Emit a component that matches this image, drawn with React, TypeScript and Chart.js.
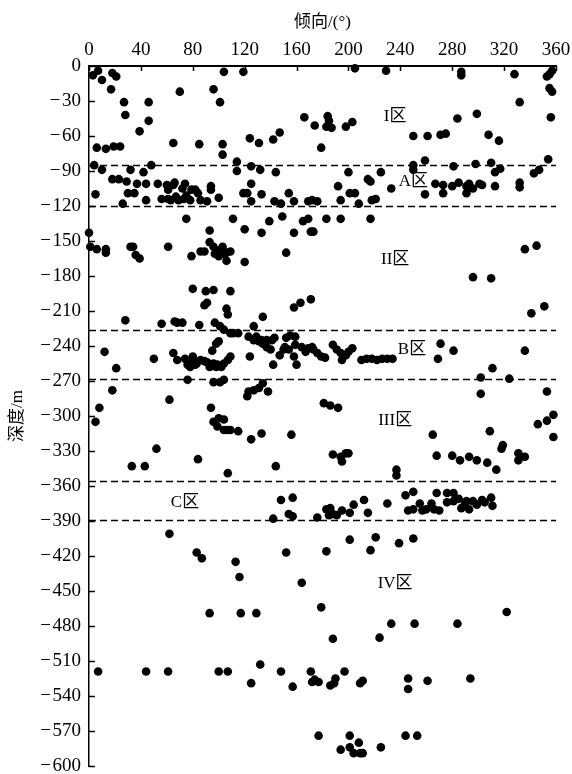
import React, { useEffect, useRef } from "react";
import { Chart, registerables } from "chart.js";

Chart.register(...registerables);

// ---- data: [dip direction (°), depth (m)] ----
const zoneI: [number, number][] = [
  [3, -8], [7, -4], [10, -12], [18, -6], [21, -9], [17, -20], [27, -31], [46, -31], [28, -42], [46, -47],
  [70, -22], [96, -20], [101, -31], [104, -5], [119, -5], [166, -44], [184, -43], [205, -2], [229, -4],
  [284, -45], [287, -5], [287, -8], [299, -41], [328, -7], [332, -31], [353, -9], [355, -7], [357, -4],
  [355, -19], [357, -22], [356, -44],
  [39, -56], [6, -70], [13, -71], [19, -69], [24, -69], [4, -85], [65, -66], [85, -67], [103, -67],
  [103, -76], [114, -82], [124, -62], [125, -86], [131, -66], [142, -63], [147, -57],
  [174, -51], [185, -47], [183, -52], [187, -53], [198, -52], [203, -48], [179, -70], [250, -60],
  [261, -60], [271, -59], [275, -58], [308, -59], [316, -64], [354, -80],
];

const zoneA: [number, number][] = [
  [10, -89], [5, -110], [18, -97], [23, -97], [29, -99], [32, -89], [30, -109], [35, -109], [26, -118],
  [37, -101], [42, -91], [44, -101], [48, -85], [44, -115], [53, -101], [56, -114], [60, -102], [61, -106],
  [61, -114], [63, -115], [65, -102], [66, -100], [67, -112], [69, -115], [72, -105], [73, -114], [74, -101],
  [75, -111], [78, -115], [79, -106], [82, -106], [84, -109], [86, -115], [91, -116], [94, -103], [94, -106],
  [100, -113], [114, -90], [119, -109], [122, -109], [125, -101], [125, -116], [132, -89], [133, -110],
  [144, -91], [143, -116], [148, -118], [154, -109],
  [158, -116], [169, -116], [172, -115], [176, -116], [192, -103], [194, -115], [200, -91], [201, -109],
  [205, -109], [208, -118], [215, -97], [217, -99], [218, -115], [221, -114], [225, -91], [233, -105],
  [250, -85], [250, -89], [259, -81], [259, -110], [267, -101], [273, -102], [273, -109], [280, -103],
  [281, -86], [285, -100], [291, -103], [291, -109], [293, -101], [296, -105], [298, -84], [301, -101],
  [303, -102], [310, -83], [313, -91], [317, -88], [313, -103], [332, -100], [332, -104], [343, -92],
  [347, -89],
];

const zoneII: [number, number][] = [
  [0, -143], [1, -155], [6, -157], [13, -157], [13, -160], [32, -155], [34, -155], [36, -162], [39, -165],
  [61, -155], [75, -131], [79, -163], [86, -159], [89, -159], [93, -141], [93, -151], [96, -155], [99, -160],
  [101, -158], [103, -155], [100, -163], [104, -161], [106, -160], [109, -159], [106, -167], [97, -161],
  [111, -131], [120, -168], [120, -140], [133, -143], [139, -133], [149, -129], [80, -191], [90, -193],
  [96, -192], [109, -193],
  [152, -160], [165, -133], [169, -131], [158, -143], [171, -142], [173, -142], [183, -131], [194, -131],
  [217, -131], [336, -157], [345, -154], [296, -181], [310, -182],
  [89, -205], [91, -203], [106, -208], [107, -213], [28, -218], [56, -221], [66, -219], [68, -220],
  [72, -220], [85, -222], [97, -220], [101, -223], [104, -226], [109, -229], [111, -229], [115, -229],
  [134, -215], [127, -223], [158, -207], [163, -203], [171, -200], [341, -212], [351, -206],
];

const zoneB: [number, number][] = [
  [12, -245], [21, -259], [50, -251], [65, -246], [68, -252],
  [74, -251], [76, -256], [77, -253], [78, -258], [80, -249], [81, -252], [82, -256], [83, -255], [86, -252],
  [89, -253], [91, -254], [93, -258], [94, -256], [96, -255], [98, -258], [99, -256], [102, -258], [104, -255],
  [107, -252], [109, -249], [95, -244], [100, -236], [98, -238],
  [124, -249], [123, -232], [127, -235], [129, -232], [131, -236], [133, -235], [134, -238], [137, -235],
  [141, -235], [143, -233], [137, -241], [140, -243], [142, -256], [147, -248], [150, -243],
  [152, -233], [155, -231], [159, -232], [151, -241], [154, -243], [159, -239], [160, -256], [158, -249],
  [164, -241], [167, -245], [169, -242], [172, -241], [173, -243], [176, -246], [179, -249], [182, -250],
  [188, -239], [191, -243], [194, -246], [195, -252], [198, -248], [200, -245], [203, -242], [210, -252],
  [214, -251], [218, -251], [222, -252], [226, -251], [230, -251], [234, -251],
  [271, -238], [281, -244], [269, -251], [336, -244], [311, -259], [302, -267], [324, -268],
];

const zoneIII: [number, number][] = [
  [18, -278], [8, -293], [5, -305], [76, -269], [62, -286], [96, -271], [101, -271], [104, -269], [94, -293],
  [96, -305], [100, -302], [104, -303], [99, -309], [104, -312], [106, -312], [109, -312], [115, -313],
  [84, -337], [107, -349], [122, -283], [123, -279], [127, -278], [131, -276], [134, -272], [138, -279],
  [125, -320], [133, -315], [144, -343], [156, -316], [33, -343], [43, -343], [52, -328], [302, -281],
  [353, -279], [181, -289], [186, -291], [192, -293], [265, -316], [309, -313], [346, -307], [353, -304],
  [358, -299], [358, -318], [188, -333], [195, -339], [198, -332], [200, -332], [194, -335], [237, -346],
  [237, -351], [268, -334], [280, -334], [286, -338], [293, -335], [299, -338], [307, -340], [314, -346],
  [318, -328], [319, -325], [331, -332], [336, -335], [331, -338],
];

const zoneC: [number, number][] = [
  [142, -388], [148, -372], [157, -370], [154, -384], [157, -386], [176, -387], [183, -380], [186, -379],
  [185, -385], [188, -384], [191, -385], [195, -381], [201, -383], [204, -376], [212, -372], [215, -383],
  [230, -375], [244, -368], [250, -365], [246, -381], [250, -380], [255, -375], [257, -381], [260, -380],
  [264, -375], [266, -380], [270, -381], [268, -366], [276, -366], [281, -366], [276, -374], [281, -373],
  [285, -371], [287, -379], [290, -375], [293, -380], [291, -373], [296, -373], [299, -376], [303, -372],
  [305, -374], [310, -370], [311, -377],
];

const zoneIV: [number, number][] = [
  [62, -401], [83, -417], [87, -422], [113, -425], [116, -438], [93, -469], [117, -469], [129, -469],
  [152, -417], [164, -443], [183, -416], [217, -415], [201, -406], [221, -404], [239, -409], [250, -405],
  [179, -464], [322, -468], [188, -491], [224, -490], [233, -478], [251, -478], [284, -478],
  [7, -519], [44, -519], [61, -519], [100, -519], [107, -519], [125, -529], [132, -513], [148, -519],
  [157, -532], [171, -519], [172, -528], [174, -526], [177, -528], [186, -531], [189, -529], [190, -525],
  [197, -519], [209, -529], [211, -527], [246, -525], [246, -534], [261, -527], [294, -525],
  [177, -574], [194, -586], [201, -574], [201, -584], [204, -589], [209, -589], [211, -589], [208, -580],
  [225, -584], [244, -574], [253, -574],
];

const boundaryDepths = [-85, -120, -226, -268, -356, -389];
const zoneLabels = ["I区", "A区", "II区", "B区", "III区", "C区", "IV区"];
const zoneLabelX = [236, 250, 236, 249, 236, 74, 236];
const zoneLabelY = [-43, -99, -166, -243, -304, -374, -444];

const xTitle = "倾向/(°)";
const yTitle = "深度/m";

const SERIF = "'Liberation Serif', 'Noto Sans CJK SC', serif";

const overlayPlugin = {
  id: "overlay",
  beforeDatasetsDraw(chart: any) {
    const { ctx, chartArea, scales } = chart;
    const y = scales.y;
    ctx.save();
    ctx.strokeStyle = "#000";
    ctx.lineWidth = 1.6;
    ctx.setLineDash([7, 4]);
    boundaryDepths.forEach((d) => {
      const py = Math.round(y.getPixelForValue(d)) + 0.5;
      ctx.beginPath();
      ctx.moveTo(chartArea.left, py);
      ctx.lineTo(chartArea.right, py);
      ctx.stroke();
    });
    ctx.restore();
  },
  afterDatasetsDraw(chart: any) {
    const { ctx, scales } = chart;
    ctx.save();
    ctx.fillStyle = "#000";
    ctx.font = "17px " + SERIF;
    ctx.textAlign = "center";
    ctx.textBaseline = "middle";
    zoneLabels.forEach((t, i) => {
      ctx.fillText(t, scales.x.getPixelForValue(zoneLabelX[i]), scales.y.getPixelForValue(zoneLabelY[i]));
    });
    ctx.restore();
  },
  afterDraw(chart: any) {
    const { ctx, chartArea, scales } = chart;
    ctx.save();
    ctx.strokeStyle = "#000";
    ctx.lineWidth = 1.5;
    scales.x.ticks.forEach((t: any) => {
      const px = Math.round(scales.x.getPixelForValue(t.value)) + 0.5;
      ctx.beginPath();
      ctx.moveTo(px, chartArea.top);
      ctx.lineTo(px, chartArea.top + 5);
      ctx.stroke();
    });
    scales.y.ticks.forEach((t: any) => {
      const py = Math.round(scales.y.getPixelForValue(t.value)) + 0.5;
      ctx.beginPath();
      ctx.moveTo(chartArea.left, py);
      ctx.lineTo(chartArea.left + 6, py);
      ctx.stroke();
    });
    ctx.restore();
  },
};

export default function App() {
  const ref = useRef<HTMLCanvasElement | null>(null);
  useEffect(() => {
    if (!ref.current) return;
    const mk = (pts: [number, number][]) => ({
      data: pts.map(([x, y]) => ({ x, y })),
      backgroundColor: "#000",
      borderWidth: 0,
      pointRadius: 4.3,
      pointHoverRadius: 4.3,
      clip: false as any,
    });
    const chart = new Chart(ref.current, {
      type: "scatter",
      data: {
        datasets: [zoneI, zoneA, zoneII, zoneB, zoneIII, zoneC, zoneIV].map(mk),
      },
      options: {
        responsive: false,
        animation: false,
        events: [],
        layout: { autoPadding: false, padding: { left: 0, right: 16, top: 0, bottom: 8 } },
        plugins: { legend: { display: false }, tooltip: { enabled: false } },
        scales: {
          x: {
            type: "linear",
            position: "top",
            min: 0,
            max: 360,
            afterFit: (s: any) => {
              s.height = 66;
              s.paddingLeft = 0;
              s.paddingRight = 0;
              s.paddingTop = 0;
              s.paddingBottom = 0;
            },
            ticks: {
              stepSize: 40,
              color: "#000",
              padding: 5,
              maxRotation: 0,
              font: { family: SERIF, size: 19 },
            },
            grid: { display: true, drawOnChartArea: false, drawTicks: false },
            border: { display: true, color: "#000", width: 2 },
            title: {
              display: true,
              text: xTitle,
              color: "#000",
              font: { family: SERIF, size: 17 },
              padding: { top: 12, bottom: 0 },
            },
          },
          y: {
            type: "linear",
            position: "left",
            min: -600,
            max: 0,
            afterFit: (s: any) => {
              s.width = 89;
              s.paddingLeft = 0;
              s.paddingRight = 0;
              s.paddingTop = 0;
              s.paddingBottom = 0;
            },
            ticks: {
              stepSize: 30,
              color: "#000",
              padding: 8,
              font: { family: SERIF, size: 19 },
              callback: (v: any) => (Number(v) === 0 ? "0" : "\u2212\u200A" + Math.abs(Number(v))),
            },
            grid: { display: true, drawOnChartArea: false, drawTicks: false },
            border: { display: true, color: "#000", width: 1.5 },
            title: {
              display: true,
              text: yTitle,
              color: "#000",
              font: { family: SERIF, size: 17 },
              padding: { top: 7, bottom: 0 },
            },
          },
        },
      },
      plugins: [overlayPlugin],
    });
    return () => chart.destroy();
  }, []);
  return (
    <div style={{ position: "absolute", left: 0, top: 0, width: 572, height: 774, background: "#fff" }}>
      <canvas ref={ref} width={572} height={774} style={{ width: 572, height: 774, display: "block" }} />
    </div>
  );
}
